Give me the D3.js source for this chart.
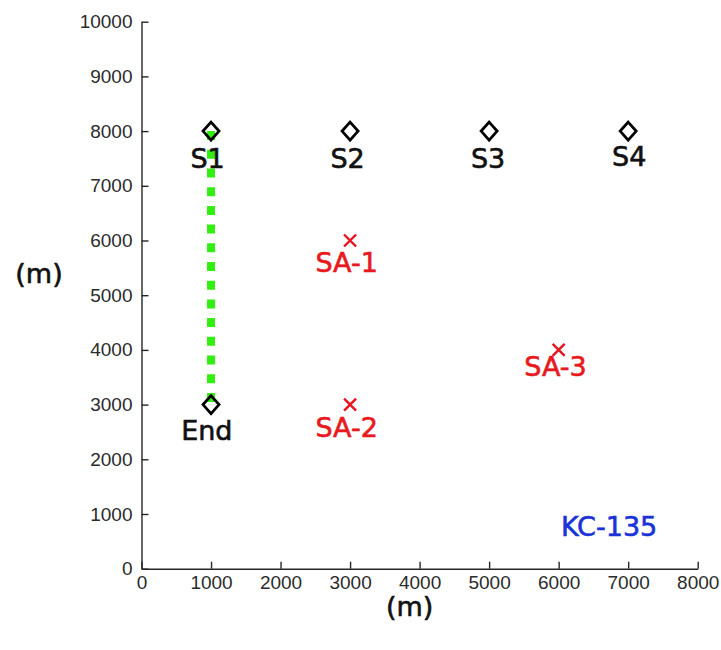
<!DOCTYPE html>
<html>
<head>
<meta charset="utf-8">
<script src="https://cdn.jsdelivr.net/npm/d3@7"></script>
<style>
  html, body { margin: 0; padding: 0; background: #fff; }
  svg { display: block; }
  .tick text { font-family: "Liberation Sans", Arial, sans-serif; font-size: 19px; fill: #2b2b2b; }
  .lbl { font-family: "DejaVu Sans", Verdana, sans-serif; font-size: 27px; stroke-width: 0.6px; paint-order: stroke; }
</style>
</head>
<body>
<svg id="chart" width="721" height="650"></svg>
<script>
// Sites (start points S1–S4 and the end point)
const siteNames = ["S1", "S2", "S3", "S4", "End"];
const siteX = [1000, 3000, 5000, 7000, 1000];
const siteY = [8000, 8000, 8000, 8000, 3000];
// Text anchors for the site names, in data units
const siteLabelX = [950, 2965, 4985, 7015, 940];
const siteLabelY = [7500, 7490, 7490, 7530, 2520];

// Targets SA-1 .. SA-3
const targetNames = ["SA-1", "SA-2", "SA-3"];
const targetX = [3000, 3000, 6000];
const targetY = [6000, 3000, 4000];
const targetLabelX = [2950, 2950, 5955];
const targetLabelY = [5600, 2575, 3690];

// Flight route from S1 to End
const routeX = [1000, 1000];
const routeY = [8000, 3000];

// Aircraft tag
const aircraftName = "KC-135";
const aircraftLabelX = 6725;
const aircraftLabelY = 770;

// Axis ticks
const xTickValues = [0, 1000, 2000, 3000, 4000, 5000, 6000, 7000, 8000];
const yTickValues = [0, 1000, 2000, 3000, 4000, 5000, 6000, 7000, 8000, 9000, 10000];
const xAxisTitle = "(m)";
const yAxisTitle = "(m)";

const svg = d3.select("#chart");
const x = d3.scaleLinear().domain([0, 8000]).range([141.5, 697.7]);
const y = d3.scaleLinear().domain([0, 10000]).range([568.7, 21.7]);

// Axes: left and bottom only, ticks pointing inward
svg.append("g")
  .attr("transform", `translate(0,${y(0)})`)
  .call(d3.axisBottom(x).tickValues(xTickValues).tickFormat(d3.format("d"))
        .tickSizeInner(-7).tickSizeOuter(0).tickPadding(7));
svg.append("g")
  .attr("transform", `translate(${x(0)},0)`)
  .call(d3.axisLeft(y).tickValues(yTickValues).tickFormat(d3.format("d"))
        .tickSizeInner(-7).tickSizeOuter(0).tickPadding(9));
svg.selectAll(".domain, .tick line").attr("stroke", "#262626").attr("stroke-width", 1.4);

// Axis titles
svg.append("text").attr("class", "lbl")
  .attr("x", (x(0) + x(8000)) / 2 - 10).attr("y", 616)
  .attr("text-anchor", "middle")
  .attr("font-size", 24)
  .attr("fill", "#111").attr("stroke", "#111").text(xAxisTitle);
svg.append("text").attr("class", "lbl")
  .attr("x", 39).attr("y", 273)
  .attr("text-anchor", "middle").attr("dominant-baseline", "central")
  .attr("fill", "#111").attr("stroke", "#111").text(yAxisTitle);

// Route: thick green dotted line
const route = d3.line().x(d => x(d[0])).y(d => y(d[1]));
svg.append("path")
  .datum(routeX.map((v, i) => [v, routeY[i]]))
  .attr("d", route)
  .attr("fill", "none")
  .attr("stroke", "#33ee11")
  .attr("stroke-width", 8)
  .attr("stroke-dasharray", "9 9.7");

// Site markers: open diamonds
const diamond = (cx, cy) => `M${cx},${cy - 9}L${cx + 8},${cy}L${cx},${cy + 9}L${cx - 8},${cy}Z`;
svg.append("g").selectAll("path")
  .data(siteNames.map((n, i) => ({ x: siteX[i], y: siteY[i] })))
  .join("path")
  .attr("d", d => diamond(x(d.x), y(d.y)))
  .attr("fill", "none")
  .attr("stroke", "#000")
  .attr("stroke-width", 2.8);

svg.append("g").selectAll("text")
  .data(siteNames.map((n, i) => ({ n, x: siteLabelX[i], y: siteLabelY[i] })))
  .join("text")
  .attr("class", "lbl")
  .attr("x", d => x(d.x)).attr("y", d => y(d.y))
  .attr("text-anchor", "middle").attr("dominant-baseline", "central")
  .attr("fill", "#111").attr("stroke", "#111")
  .text(d => d.n);

// Target markers: red crosses
const tg = svg.append("g").selectAll("g")
  .data(targetNames.map((n, i) => ({ n, x: targetX[i], y: targetY[i], lx: targetLabelX[i], ly: targetLabelY[i] })))
  .join("g");
tg.append("path")
  .attr("d", d => {
    const cx = x(d.x), cy = y(d.y), s = 6;
    return `M${cx - s},${cy - s}L${cx + s},${cy + s}M${cx - s},${cy + s}L${cx + s},${cy - s}`;
  })
  .attr("stroke", "#e8141c").attr("stroke-width", 2.4).attr("fill", "none");
tg.append("text")
  .attr("class", "lbl")
  .attr("x", d => x(d.lx)).attr("y", d => y(d.ly))
  .attr("text-anchor", "middle").attr("dominant-baseline", "central")
  .attr("fill", "#e8191e").attr("stroke", "#e8191e")
  .text(d => d.n);

// Aircraft tag
svg.append("text").attr("class", "lbl")
  .attr("x", x(aircraftLabelX)).attr("y", y(aircraftLabelY))
  .attr("text-anchor", "middle").attr("dominant-baseline", "central")
  .attr("fill", "#1a33d8").attr("stroke", "#1a33d8")
  .text(aircraftName);
</script>
</body>
</html>
